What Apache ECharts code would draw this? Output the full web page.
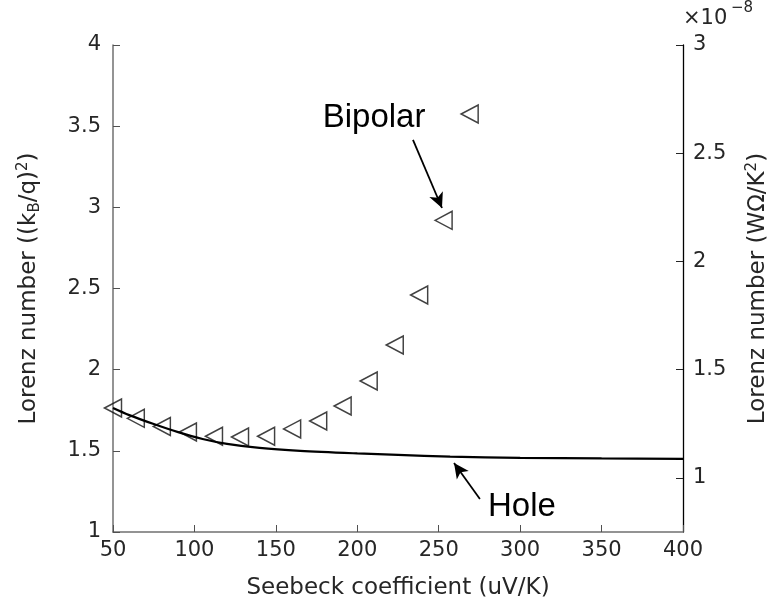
<!DOCTYPE html>
<html><head><meta charset="utf-8">
<script src="https://cdn.jsdelivr.net/npm/echarts@6/dist/echarts.min.js"></script>
<style>html,body{margin:0;padding:0;background:#fff}#c{width:773px;height:605px}</style>
</head><body><div id="c"></div>
<script>
// Bipolar (triangles)
const bipolarSeebeck = [50, 64, 80, 96, 112, 128, 144, 160, 176, 191, 207, 223, 238, 253, 269];
const bipolarLorenz  = [1.764, 1.70, 1.65, 1.616, 1.59, 1.585, 1.59, 1.635, 1.684, 1.776, 1.93, 2.152, 2.46, 2.92, 3.575];
// Hole (line)
const holeSeebeck = [50, 60, 75, 90, 105, 120, 140, 165, 200, 225, 257, 300, 350, 400];
const holeLorenz  = [1.764, 1.72, 1.665, 1.615, 1.573, 1.543, 1.518, 1.5, 1.484, 1.475, 1.464, 1.457, 1.453, 1.451];
const xTicks = [50, 100, 150, 200, 250, 300, 350, 400];
const rightTicks = [1, 1.5, 2, 2.5, 3];
const rightScale = 0.75; // 1e-8 W·Ω/K² per (kB/q)²

const chart = echarts.init(document.getElementById('c'), null, {renderer: 'canvas'});
const FF = 'DejaVu Sans';
const axisFont = {fontFamily: FF, fontSize: 21, color: '#262626'};
const annoFont = 'Liberation Sans';

chart.setOption({
  animation: false,
  grid: {left: 113, right: 90, top: 45, bottom: 73, outerBoundsMode: 'none', containLabel: false},
  xAxis: {
    type: 'value', min: 50, max: 400, interval: 50,
    name: 'Seebeck coefficient (uV/K)', nameLocation: 'middle', nameGap: 45,
    nameTextStyle: {fontFamily: FF, fontSize: 23, color: '#262626'},
    axisLine: {show: true, lineStyle: {color: '#707070', width: 1.5}},
    axisTick: {show: true, inside: true, length: 7, lineStyle: {color: '#505050'}},
    axisLabel: Object.assign({margin: 8}, axisFont),
    splitLine: {show: false}
  },
  yAxis: [{
    type: 'value', min: 1, max: 4, interval: 0.5, position: 'left',
    name: '{n|Lorenz number ((k}{s|B}{n|/q)}{p|2}{n|)}', nameLocation: 'middle', nameGap: 70,
    nameTextStyle: {rich: {
      n: {fontFamily: FF, fontSize: 23, color: '#262626'},
      s: {fontFamily: FF, fontSize: 15, color: '#262626', verticalAlign: 'bottom', padding: [10,0,0,0]},
      p: {fontFamily: FF, fontSize: 15, color: '#262626', verticalAlign: 'top', padding: [0,0,12,0]}
    }},
    axisLine: {show: true, lineStyle: {color: '#707070', width: 1.5}},
    axisTick: {show: true, inside: true, length: 7, lineStyle: {color: '#505050'}},
    axisLabel: Object.assign({margin: 12}, axisFont),
    splitLine: {show: false}
  }, {
    type: 'value', min: 1 * rightScale, max: 4 * rightScale, position: 'right',
    name: '{n|Lorenz number (WΩ/K}{p|2}{n|)}', nameLocation: 'middle', nameGap: 62, nameRotate: 90,
    nameTextStyle: {rich: {
      n: {fontFamily: FF, fontSize: 23, color: '#262626'},
      p: {fontFamily: FF, fontSize: 15, color: '#262626', verticalAlign: 'top', padding: [0,0,12,0]}
    }},
    axisLine: {show: true, lineStyle: {color: '#000', width: 1.3}},
    axisTick: {show: true, inside: true, length: 7, customValues: rightTicks, lineStyle: {color: '#262626'}},
    axisLabel: Object.assign({margin: 10, customValues: rightTicks, formatter: v => String(v)}, axisFont),
    splitLine: {show: false}
  }],
  series: [{
    type: 'scatter', name: 'Bipolar',
    data: bipolarSeebeck.map((x, i) => [x, bipolarLorenz[i]]),
    symbol: 'triangle', symbolRotate: 90, symbolSize: [18, 17],
    itemStyle: {color: 'transparent', borderColor: '#111', borderWidth: 1.5},
    z: 2,
    markLine: {
      silent: true, symbol: ['none', 'arrow'], symbolSize: [11, 15],
      lineStyle: {color: '#000', width: 1.8, type: 'solid'}, label: {show: false},
      data: [
        [{coord: [234.2, 3.415]}, {coord: [252.0, 2.996]}],
        [{coord: [275.3, 1.203]}, {coord: [259.4, 1.425]}]
      ]
    },
    markPoint: {
      silent: true, symbol: 'rect', symbolSize: 1, itemStyle: {color: 'transparent'},
      label: {show: true, position: 'inside', fontFamily: annoFont, fontSize: 33, color: '#000'},
      data: [
        {coord: [210.3, 3.551], value: 'Bipolar', label: {formatter: 'Bipolar'}},
        {coord: [301.1, 1.154], value: 'Hole', label: {formatter: 'Hole'}}
      ]
    }
  }, {
    type: 'line', name: 'Hole',
    data: holeSeebeck.map((x, i) => [x, holeLorenz[i]]),
    smooth: 0.3, showSymbol: false, symbol: 'none',
    lineStyle: {color: '#000', width: 2.2}, z: 3
  }],
  graphic: [{
    type: 'text', left: 683, top: 8,
    style: {text: '×10', font: '21px "DejaVu Sans"', fill: '#262626'}
  }, {
    type: 'text', left: 731, top: 1,
    style: {text: '−8', font: '15px "DejaVu Sans"', fill: '#262626'}
  }]
});
</script></body></html>
